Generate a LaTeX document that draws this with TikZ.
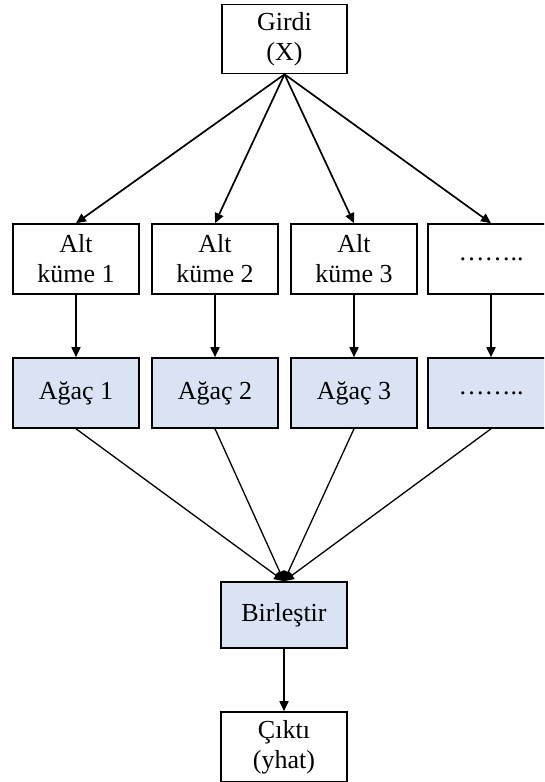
\documentclass[tikz,border=0pt]{standalone}
\usepackage{fontspec}
\setmainfont{Liberation Serif}
\usetikzlibrary{arrows.meta}
\definecolor{treefill}{HTML}{DAE3F3}
\tikzset{
  box/.style={draw=black, line width=1.6pt, minimum width=126pt, minimum height=70pt,
    align=center, inner sep=0pt, font=\fontsize{26}{30}\selectfont},
  treebox/.style={box, fill=treefill},
  link/.style={line width=1.7pt, -{Triangle[length=10pt,width=9pt]}},
  merge/.style={line width=1.3pt, -{Triangle[length=10pt,width=9pt]}}
}
\begin{document}
\begin{tikzpicture}[x=1pt,y=-1pt]
  \useasboundingbox (0,0) rectangle (544,782);
  \clip (0,0) rectangle (544,782);
  \fill[white] (0,0) rectangle (544,782);

  % input
  \node[box, minimum width=125pt, minimum height=69pt] (girdi) at (284.5,39) {Girdi\\(X)};

  % subsets
  \node[box] (s1) at (76,259)  {Alt\\küme 1};
  \node[box] (s2) at (215,259) {Alt\\küme 2};
  \node[box] (s3) at (354,259) {Alt\\küme 3};
  \node[box] (s4) at (491,259) {……..};

  % trees
  \node[treebox] (t1) at (76,393)  {Ağaç 1};
  \node[treebox] (t2) at (215,393) {Ağaç 2};
  \node[treebox] (t3) at (354,393) {Ağaç 3};
  \node[treebox] (t4) at (491,393) {……..};

  % combine and output
  \node[treebox, minimum height=66pt] (bir) at (284,615) {Birleştir};
  \node[box] (cikti) at (284,747) {Çıktı\\(yhat)};

  % input to subsets, subsets to trees, trees to the combiner
  \foreach \i in {1,2,3,4} {
    \draw[link] (girdi.south) -- (s\i.north);
    \draw[link] (s\i.south) -- (t\i.north);
    \draw[merge] (t\i.south) -- (bir.north);
  }
  \draw[link] (bir.south) -- (cikti.north);
\end{tikzpicture}
\end{document}
